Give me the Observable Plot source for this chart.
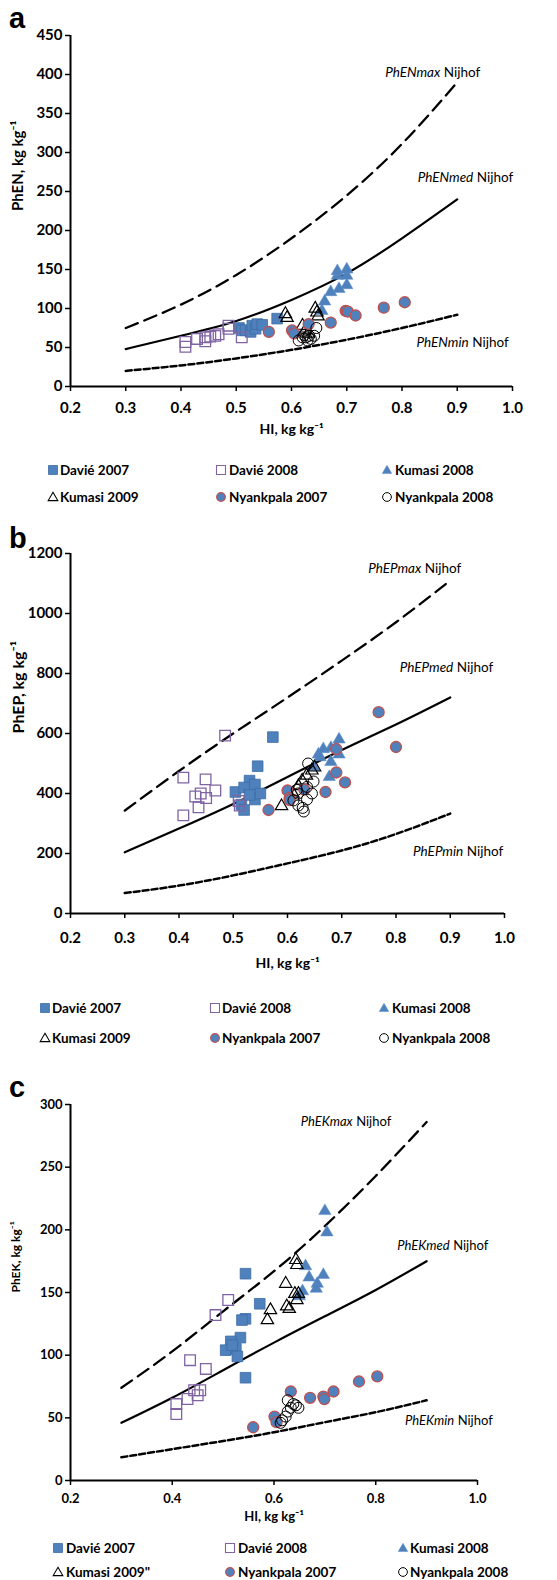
<!DOCTYPE html>
<html><head><meta charset="utf-8">
<script src="https://cdn.jsdelivr.net/npm/d3@7"></script>
<script src="https://cdn.jsdelivr.net/npm/@observablehq/plot@0.6"></script>
<style>
html,body{margin:0;padding:0;background:#fff;}
#root{position:relative;width:557px;height:1580px;overflow:hidden;font-family:Lato,"Open Sans",sans-serif;color:#000;}
.letter{position:absolute;font-family:"Liberation Sans",Arial,sans-serif;font-weight:bold;font-size:29px;line-height:1;}
.legtxt{position:absolute;height:20px;line-height:20px;font-weight:bold;white-space:nowrap;}
.legmk{position:absolute;}
</style></head><body><div id="root"></div>
<script>
// ---------------- data ----------------
const NIJHOF_HI = [0.3, 0.4, 0.5, 0.6, 0.7, 0.8, 0.9];
const X_TICKS_AB = [0.2, 0.3, 0.4, 0.5, 0.6, 0.7, 0.8, 0.9, 1.0];
const X_TICKS_C = [0.2, 0.4, 0.6, 0.8, 1.0];
const PhEN_TICKS = [0, 50, 100, 150, 200, 250, 300, 350, 400, 450];
const PhEP_TICKS = [0, 200, 400, 600, 800, 1000, 1200];
const PhEK_TICKS = [0, 50, 100, 150, 200, 250, 300];

const SERIES_NAMES = ["Davié 2007", "Davié 2008", "Kumasi 2008", "Kumasi 2009", "Nyankpala 2007", "Nyankpala 2008"];
const SERIES_NAMES_C = ["Davié 2007", "Davié 2008", "Kumasi 2008", "Kumasi 2009\"", "Nyankpala 2007", "Nyankpala 2008"];

// Panel a: PhEN
const PhEN_max = [75, 105, 143, 190, 245, 311, 390];
const PhEN_med = [48, 65, 84, 111, 145, 190, 240];
const PhEN_min = [20, 27, 36, 47, 60, 75, 92];
const PhEN_davie2007 = [[0.505,75],[0.51,72],[0.517,72],[0.526,70],[0.529,78],[0.535,74],[0.538,80],[0.547,79],[0.574,87]];
const PhEN_davie2008 = [[0.408,57],[0.408,51],[0.429,61],[0.444,63],[0.444,58],[0.453,64],[0.462,65],[0.468,67],[0.486,74],[0.486,78],[0.51,63]];
const PhEN_kumasi2008 = [[0.655,97],[0.66,109],[0.671,121],[0.686,125],[0.70,130],[0.683,142],[0.70,142],[0.683,148],[0.70,150]];
const PhEN_kumasi2009 = [[0.589,93],[0.592,88],[0.643,100],[0.646,95],[0.648,90],[0.62,78],[0.625,72],[0.63,68]];
const PhEN_nyank2007 = [[0.559,70],[0.601,72],[0.605,68],[0.631,80],[0.671,82],[0.698,97],[0.702,96],[0.716,91],[0.767,101],[0.805,108]];
const PhEN_nyank2008 = [[0.613,59],[0.62,63],[0.626,63],[0.632,65],[0.635,61],[0.641,65],[0.645,75],[0.629,59],[0.623,66]];

// Panel b: PhEP
const PhEP_max = [343, 475, 600, 720, 843, 971, 1110];
const PhEP_med = [204, 283, 365, 455, 545, 630, 720];
const PhEP_min = [68, 93, 127, 167, 210, 265, 333];
const PhEP_davie2007 = [[0.573,588],[0.545,491],[0.53,443],[0.504,405],[0.52,420],[0.54,430],[0.515,363],[0.52,345],[0.54,380],[0.55,400],[0.53,395]];
const PhEP_davie2008 = [[0.408,453],[0.408,327],[0.43,390],[0.44,400],[0.436,354],[0.449,447],[0.45,385],[0.467,410],[0.485,593],[0.512,360],[0.51,375]];
const PhEP_kumasi2008 = [[0.648,488],[0.657,530],[0.66,521],[0.666,548],[0.68,552],[0.695,580],[0.695,530],[0.68,505],[0.677,455],[0.69,555]];
const PhEP_kumasi2009 = [[0.589,358],[0.61,400],[0.62,425],[0.627,443],[0.635,460],[0.645,477],[0.65,487]];
const PhEP_nyank2007 = [[0.565,345],[0.60,410],[0.604,385],[0.604,378],[0.631,413],[0.67,405],[0.69,548],[0.69,470],[0.706,437],[0.768,671],[0.80,555]];
const PhEP_nyank2008 = [[0.611,377],[0.62,360],[0.628,352],[0.63,340],[0.636,380],[0.645,400],[0.619,400],[0.617,412],[0.636,422],[0.648,440],[0.638,500]];

// Panel c: PhEK
const PhEK_max = [74, 103, 135, 167, 203, 243, 286];
const PhEK_med = [46, 66, 88, 110, 131, 152, 175];
const PhEK_min = [18.5, 25, 31.5, 38.5, 46.5, 54.5, 64];
const PhEK_davie2007 = [[0.544,165],[0.572,141],[0.544,129],[0.537,128],[0.534,114],[0.515,111],[0.505,104],[0.525,105],[0.528,99],[0.544,82],[0.518,108]];
const PhEK_davie2008 = [[0.51,144],[0.485,132],[0.435,96],[0.466,89],[0.443,72],[0.455,72],[0.45,68],[0.43,65],[0.408,61],[0.408,53]];
const PhEK_kumasi2008 = [[0.70,215],[0.704,198],[0.662,171],[0.669,162],[0.697,164],[0.685,157],[0.683,153],[0.656,151],[0.65,147]];
const PhEK_kumasi2009 = [[0.643,176],[0.645,172],[0.623,157],[0.641,149],[0.648,149],[0.645,144],[0.625,139],[0.63,137],[0.593,136],[0.587,128]];
const PhEK_nyank2007 = [[0.559,42.5],[0.601,51],[0.605,46.5],[0.633,71],[0.671,66],[0.697,67],[0.699,65],[0.717,71],[0.767,79],[0.803,83]];
const PhEK_nyank2008 = [[0.613,46],[0.616,48],[0.623,51],[0.627,55],[0.627,64],[0.633,58],[0.638,61],[0.643,60],[0.648,58]];

// ---------------- styles ----------------
const BLUE = "#4F81BD";
const STYLES = [
  {symbol: "square", r: 6, fill: BLUE, stroke: "#3D6CA6", strokeWidth: 0.8},
  {symbol: "square", r: 6, fill: "none", stroke: "#8064A2", strokeWidth: 1.3},
  {symbol: "triangle", r: 4.6, fill: BLUE, stroke: "#5B8CC8", strokeWidth: 0.5},
  {symbol: "triangle", r: 4.6, fill: "none", stroke: "#000", strokeWidth: 1.2},
  {symbol: "circle", r: 5.5, fill: BLUE, stroke: "#C0504D", strokeWidth: 1.3},
  {symbol: "circle", r: 5.5, fill: "none", stroke: "#000", strokeWidth: 1.0}
];
const LEG_SHAPES = [
  {type: d3.symbolSquare, size: 81},
  {type: d3.symbolSquare, size: 81},
  {type: d3.symbolTriangle, size: 40},
  {type: d3.symbolTriangle, size: 40},
  {type: d3.symbolCircle, size: 60},
  {type: d3.symbolCircle, size: 60}
];

const root = document.getElementById("root");

function annot(vals, name, dx, dy, size) {
  const pt = [{x: NIJHOF_HI[NIJHOF_HI.length - 1], y: vals[vals.length - 1]}];
  return [
    Plot.text(pt, {x: "x", y: "y", text: () => name, dx, dy, textAnchor: "end", fontStyle: "italic", fontWeight: "normal", fontSize: size}),
    Plot.text(pt, {x: "x", y: "y", text: () => "Nijhof", dx: dx + 3.5, dy, textAnchor: "start", fontWeight: "normal", fontSize: size})
  ];
}

function panel(cfg) {
  const curve = vals => NIJHOF_HI.map((x, i) => ({x, y: vals[i]}));
  const dots = cfg.series.map((arr, i) => Plot.dot(arr.map(([x, y]) => ({x, y})), {x: "x", y: "y", ...STYLES[i]}));
  const svg = Plot.plot({
    width: 557, height: cfg.height,
    marginTop: cfg.mt, marginBottom: cfg.mb, marginLeft: 70, marginRight: cfg.mr,
    x: {domain: [0.2, 1.0]},
    y: {domain: cfg.yDomain},
    style: {fontFamily: "Lato, 'Open Sans', sans-serif", fontSize: cfg.tickFont + "px", fontWeight: "bold", color: "#000", background: "transparent", overflow: "visible"},
    marks: [
      Plot.axisX({ticks: cfg.xTicks, tickSize: 5, tickPadding: cfg.xPad, tickFormat: d => d.toFixed(1), label: null, strokeWidth: 1.5}),
      Plot.axisY({ticks: cfg.yTicks, tickSize: 5, tickPadding: 3, tickFormat: d => String(d), label: null, strokeWidth: 1.5}),
      Plot.ruleX([0.2], {strokeWidth: 2}),
      Plot.ruleY([0], {strokeWidth: 2}),
      Plot.line(curve(cfg.max), {x: "x", y: "y", curve: "natural", strokeWidth: 2.3, strokeDasharray: "13,7"}),
      Plot.line(curve(cfg.med), {x: "x", y: "y", curve: "natural", strokeWidth: 2.2}),
      Plot.line(curve(cfg.min), {x: "x", y: "y", curve: "natural", strokeWidth: 2.5, strokeDasharray: "6,3"}),
      ...dots,
      ...annot(cfg.max, cfg.names[0], cfg.aMax[0], cfg.aMax[1], cfg.annFont),
      ...annot(cfg.med, cfg.names[1], cfg.aMed[0], cfg.aMed[1], cfg.annFont),
      ...annot(cfg.min, cfg.names[2], cfg.aMin[0], cfg.aMin[1], cfg.annFont),
      Plot.text([cfg.xLabel], {frameAnchor: "bottom", dy: cfg.xLabelDy, text: d => d, fontSize: cfg.xLabelFont, fontWeight: "bold"}),
      Plot.text([cfg.yLabel], {frameAnchor: "left", dx: cfg.yLabelDx, rotate: -90, text: d => d, fontSize: cfg.yLabelFont, fontWeight: "bold"})
    ]
  });
  svg.style.position = "absolute";
  svg.style.left = "0px";
  svg.style.top = cfg.top + "px";
  root.appendChild(svg);

  const letter = document.createElement("div");
  letter.className = "letter";
  letter.textContent = cfg.letter;
  letter.style.left = cfg.letterPos[0] + "px";
  letter.style.top = cfg.letterPos[1] + "px";
  root.appendChild(letter);

  cfg.legNames.forEach((name, i) => {
    const row = Math.floor(i / 3), col = i % 3;
    const cy = cfg.legRows[row];
    const mx = cfg.legMk[col];
    const st = STYLES[i], sh = LEG_SHAPES[i];
    const s = d3.create("svg").attr("width", 14).attr("height", 14)
      .attr("class", "legmk").style("left", (mx - 7) + "px").style("top", (cy - 7) + "px");
    s.append("path").attr("transform", sh.type === d3.symbolTriangle ? "translate(7,7.8)" : "translate(7,7)")
      .attr("d", d3.symbol(sh.type, sh.size)())
      .attr("fill", st.fill).attr("stroke", st.stroke).attr("stroke-width", Math.min(st.strokeWidth, 1.1));
    root.appendChild(s.node());
    const t = document.createElement("div");
    t.className = "legtxt";
    t.textContent = name;
    t.style.left = cfg.legTx[col] + "px";
    t.style.top = (cy - 10) + "px";
    t.style.fontSize = cfg.legFont + "px";
    root.appendChild(t);
  });
}

panel({
  top: 0, height: 450, mt: 35, mb: 64, mr: 45,
  yDomain: [0, 450], yTicks: PhEN_TICKS, xTicks: X_TICKS_AB, xPad: 11, tickFont: 15,
  max: PhEN_max, med: PhEN_med, min: PhEN_min,
  series: [PhEN_davie2007, PhEN_davie2008, PhEN_kumasi2008, PhEN_kumasi2009, PhEN_nyank2007, PhEN_nyank2008],
  names: ["PhENmax", "PhENmed", "PhENmin"],
  aMax: [-17, -10], aMed: [16, -22], aMin: [11.5, 27.5], annFont: 13.5,
  xLabel: "HI, kg kg⁻¹", xLabelDy: 47, xLabelFont: 14,
  yLabel: "PhEN, kg kg⁻¹", yLabelDx: -52, yLabelFont: 15,
  letter: "a", letterPos: [9, 4],
  legNames: SERIES_NAMES, legRows: [470, 497], legMk: [53, 221, 387], legTx: [60, 229, 395], legFont: 13.5
});

panel({
  top: 510, height: 480, mt: 43, mb: 77, mr: 53,
  yDomain: [0, 1200], yTicks: PhEP_TICKS, xTicks: X_TICKS_AB, xPad: 14, tickFont: 15,
  max: PhEP_max, med: PhEP_med, min: PhEP_min,
  series: [PhEP_davie2007, PhEP_davie2008, PhEP_kumasi2008, PhEP_kumasi2009, PhEP_nyank2007, PhEP_nyank2008],
  names: ["PhEPmax", "PhEPmed", "PhEPmin"],
  aMax: [-29, -12], aMed: [3, -30], aMin: [13, 38.5], annFont: 13.5,
  xLabel: "HI, kg kg⁻¹", xLabelDy: 54, xLabelFont: 14,
  yLabel: "PhEP, kg kg⁻¹", yLabelDx: -52, yLabelFont: 16,
  letter: "b", letterPos: [9, 524],
  legNames: SERIES_NAMES, legRows: [1008, 1038], legMk: [45, 215, 384], legTx: [52, 222, 392], legFont: 13.5
});

panel({
  top: 1060, height: 475, mt: 44, mb: 55, mr: 80,
  yDomain: [0, 300], yTicks: PhEK_TICKS, xTicks: X_TICKS_C, xPad: 8, tickFont: 13,
  max: PhEK_max, med: PhEK_med, min: PhEK_min,
  series: [PhEK_davie2007, PhEK_davie2008, PhEK_kumasi2008, PhEK_kumasi2009, PhEK_nyank2007, PhEK_nyank2008],
  names: ["PhEKmax", "PhEKmed", "PhEKmin"],
  aMax: [-74, 0], aMed: [23, -15], aMin: [27.5, 21], annFont: 13,
  xLabel: "HI, kg kg⁻¹", xLabelDy: 40, xLabelFont: 13,
  yLabel: "PhEK, kg kg⁻¹", yLabelDx: -54, yLabelFont: 12,
  letter: "c", letterPos: [9, 1073],
  legNames: SERIES_NAMES_C, legRows: [1548, 1572], legMk: [58, 230, 403], legTx: [66, 238, 410], legFont: 13.5
});
</script></body></html>
